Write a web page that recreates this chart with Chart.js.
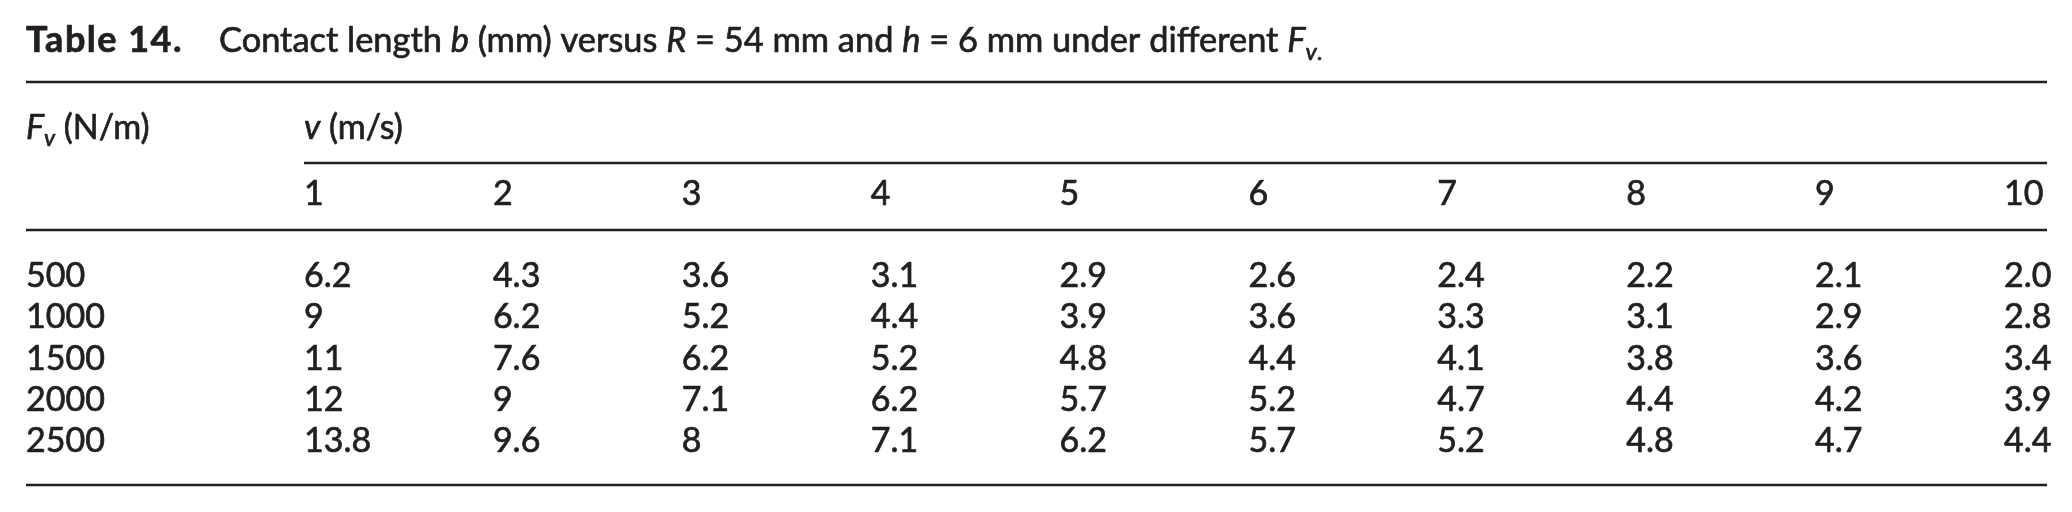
<!DOCTYPE html>
<html>
<head>
<meta charset="utf-8">
<script src="https://cdn.jsdelivr.net/npm/chart.js@4.4.0/dist/chart.umd.min.js"></script>
<style>
  html, body { margin: 0; padding: 0; background: #ffffff; }
  #wrap { width: 2072px; height: 512px; position: relative; }
</style>
</head>
<body>
<div id="wrap"><canvas id="c" width="2072" height="512"></canvas></div>
<script>
const titleNumber = 'Table 14.';
const fvRows = [500, 1000, 1500, 2000, 2500];          // Fv (N/m)
const vCols = [1, 2, 3, 4, 5, 6, 7, 8, 9, 10];         // v (m/s)
const vColLabels = ['1', '2', '3', '4', '5', '6', '7', '8', '9', '10'];
const b500  = ['6.2', '4.3', '3.6', '3.1', '2.9', '2.6', '2.4', '2.2', '2.1', '2.0'];
const b1000 = ['9',   '6.2', '5.2', '4.4', '3.9', '3.6', '3.3', '3.1', '2.9', '2.8'];
const b1500 = ['11',  '7.6', '6.2', '5.2', '4.8', '4.4', '4.1', '3.8', '3.6', '3.4'];
const b2000 = ['12',  '9',   '7.1', '6.2', '5.7', '5.2', '4.7', '4.4', '4.2', '3.9'];
const b2500 = ['13.8','9.6', '8',   '7.1', '6.2', '5.7', '5.2', '4.8', '4.7', '4.4'];
const rowValues = [b500, b1000, b1500, b2000, b2500];

// ---- Styling ----
const FONT = 'Lato, "Open Sans", sans-serif';
const INK = '#231f20';
const BODY_PX = 34;
const TITLE_PX = 34.4;
const RULE_W = 2.6;
const TEXT_STROKE = 0.7;
const TABLE_L = 26, TABLE_R = 2047;

const datasets = fvRows.map((fv, r) => ({
  label: String(fv),
  data: vCols.map((v, c) => ({ x: v, y: fv, text: rowValues[r][c], b: parseFloat(rowValues[r][c]) })),
  pointRadius: 0,
  pointHoverRadius: 0,
  showLine: false
}));

function putText(ctx, t, x, y) {
  ctx.fillText(t, x, y);
  ctx.strokeText(t, x, y);
}

function drawRuns(ctx, runs, x, y, size) {
  let cx = x;
  for (const run of runs) {
    const s = run.sub ? size * 0.68 : size;
    const style = (run.italic ? 'italic ' : '') + (run.bold ? 'bold ' : '');
    ctx.font = style + s + 'px ' + FONT;
    ctx.letterSpacing = run.spacing ? run.spacing + 'px' : '0px';
    const dy = run.sub ? size * 0.22 : 0;
    putText(ctx, run.t, cx, y + dy);
    cx += ctx.measureText(run.t).width;
  }
  ctx.letterSpacing = '0px';
  return cx;
}

function hline(ctx, x1, x2, y) {
  ctx.save();
  ctx.lineWidth = RULE_W;
  ctx.beginPath();
  ctx.moveTo(x1, y);
  ctx.lineTo(x2, y);
  ctx.stroke();
  ctx.restore();
}

const tablePlugin = {
  id: 'tablePlugin',
  beforeDraw(chart) {
    const ctx = chart.ctx;
    ctx.save();
    ctx.fillStyle = '#ffffff';
    ctx.fillRect(0, 0, chart.width, chart.height);
    ctx.restore();
  },
  afterDatasetsDraw(chart) {
    const ctx = chart.ctx;
    const xs = chart.scales.x;
    const ys = chart.scales.y;
    const col1 = xs.getPixelForValue(vCols[0]);
    ctx.save();
    ctx.fillStyle = INK;
    ctx.strokeStyle = INK;
    ctx.lineWidth = TEXT_STROKE;
    ctx.lineJoin = 'round';
    ctx.textAlign = 'left';
    ctx.textBaseline = 'alphabetic';

    // Title
    drawRuns(ctx, [{ t: titleNumber, bold: true, spacing: 1.5 }], TABLE_L, 52, 36);
    drawRuns(ctx, [
      { t: 'Contact length ' }, { t: 'b', italic: true }, { t: ' (mm) versus ' },
      { t: 'R', italic: true }, { t: ' = 54 mm and ' }, { t: 'h', italic: true },
      { t: ' = 6 mm under different ' }, { t: 'F', italic: true },
      { t: 'v', italic: true, sub: true }, { t: '.', sub: true }
    ], 219, 52, TITLE_PX);

    // Rules
    hline(ctx, TABLE_L, TABLE_R, 82);
    hline(ctx, col1, TABLE_R, 163);
    hline(ctx, TABLE_L, TABLE_R, 230);
    hline(ctx, TABLE_L, TABLE_R, 485);

    // Header rows
    drawRuns(ctx, [{ t: 'F', italic: true }, { t: 'v', italic: true, sub: true }, { t: ' (N/m)' }], TABLE_L, 139, BODY_PX);
    drawRuns(ctx, [{ t: 'v', italic: true }, { t: ' (m/s)' }], col1, 139, BODY_PX);
    ctx.font = BODY_PX + 'px ' + FONT;
    vCols.forEach((v, i) => {
      putText(ctx, vColLabels[i], xs.getPixelForValue(v), 205);
    });

    // Row labels and cells, placed through the scales
    chart.data.datasets.forEach((ds, r) => {
      const meta = chart.getDatasetMeta(r);
      putText(ctx, ds.label, TABLE_L, ys.getPixelForValue(fvRows[r]));
      meta.data.forEach((el, i) => {
        putText(ctx, ds.data[i].text, el.x, el.y);
      });
    });
    ctx.restore();
  }
};

new Chart(document.getElementById('c'), {
  type: 'scatter',
  data: { datasets },
  options: {
    responsive: false,
    animation: false,
    devicePixelRatio: 1,
    layout: { padding: { left: 304, right: 2072 - 2004, top: 287, bottom: 512 - 452 } },
    plugins: { legend: { display: false }, tooltip: { enabled: false }, title: { display: false } },
    events: [],
    scales: {
      x: { type: 'linear', min: 1, max: 10, display: false },
      y: { type: 'linear', min: 500, max: 2500, reverse: true, display: false }
    }
  },
  plugins: [tablePlugin]
});
</script>
</body>
</html>
